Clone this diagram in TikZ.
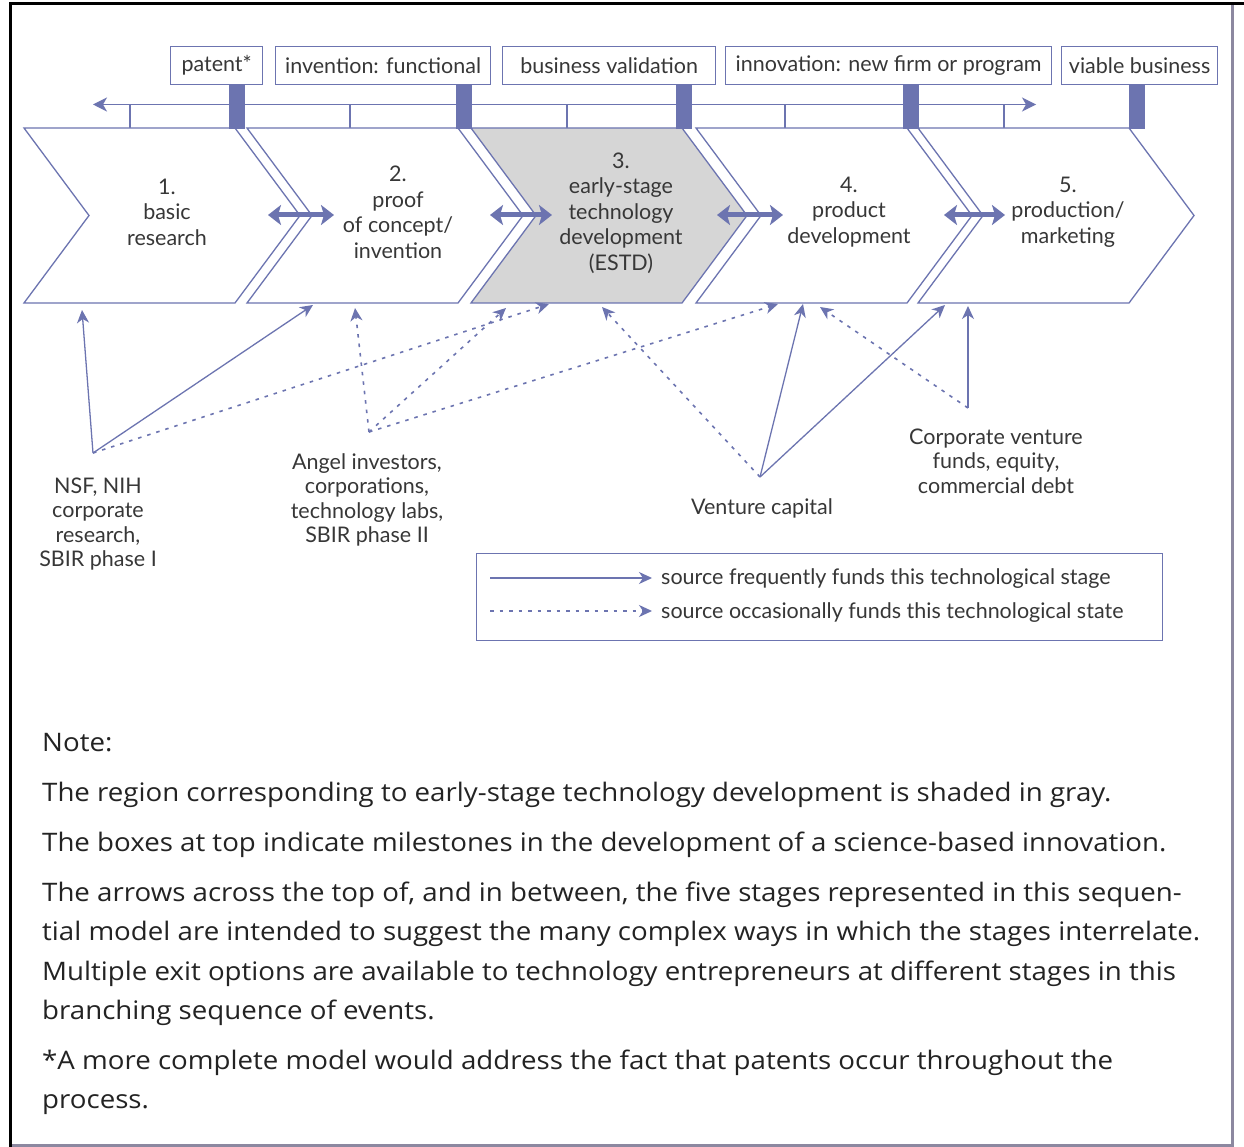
\documentclass[tikz,border=0pt]{standalone}
\usepackage{fontspec}
\setmainfont{Lato}
\newfontfamily\notefont[FakeStretch=1.085]{Open Sans}
\usetikzlibrary{arrows.meta}
\definecolor{ink}{RGB}{108,116,176}
\definecolor{shade}{RGB}{214,214,214}
\definecolor{txt}{RGB}{55,55,55}
\definecolor{notetxt}{RGB}{35,35,35}
\definecolor{edge}{RGB}{140,136,160}
\begin{document}
\begin{tikzpicture}[x=1pt,y=-1pt,line join=miter,
  lbl/.style={font=\fontsize{21.5}{25.5}\selectfont, text=txt, align=center, inner sep=0pt},
  src/.style={lbl, font=\fontsize{21.5}{24.3}\selectfont},
  mbox/.style={draw=ink, line width=1.3pt, font=\fontsize{21.5}{24}\selectfont, text=txt,
    minimum height=38pt, inner sep=0pt, anchor=north west},
  chev/.style={draw=ink, line width=1.3pt},
  tip/.style={-{Stealth[length=13pt,width=12pt,inset=4pt]}},
  fund/.style={draw=ink, line width=1.3pt, tip},
  occ/.style={draw=ink, line width=1.6pt, dash pattern=on 3.5pt off 6pt, tip},
  link/.style={draw=ink, line width=5pt,
    {Stealth[length=13pt,width=20pt,inset=3pt]}-{Stealth[length=13pt,width=20pt,inset=3pt]}},
  note/.style={font=\notefont\fontsize{25.5}{30}\selectfont, text=notetxt, anchor=mid west, inner sep=0pt}
]
\useasboundingbox (0,0) rectangle (1244,1147);
\fill[white] (0,0) rectangle (1244,1147);

% outer frame
\draw[black, line width=3pt] (10,1147) -- (10,4) -- (1244,4);
\draw[edge, line width=3pt] (1232,5.5) -- (1232,1145) -- (11.5,1145);

% milestone boxes
\node[mbox, minimum width=92pt]  (m1) at (170,46)  {patent*};
\node[mbox, minimum width=215pt] (m2) at (275,46)  {invention: functional};
\node[mbox, minimum width=213pt] (m3) at (502,46)  {business validation};
\node[mbox, minimum width=326pt] (m4) at (725,46)  {innovation: new firm or program};
\node[mbox, minimum width=156pt] (m5) at (1061,46) {viable business};

% time line with ticks
\coordinate (tl) at (93,104.5);
\coordinate (tr) at (1036,104.5);
\draw[ink, line width=1.3pt, {Stealth[length=14pt,width=14pt,inset=4pt]}-{Stealth[length=14pt,width=14pt,inset=4pt]}] (tl) -- (tr);
\foreach \x in {130,350,567,785,1004}
  \draw[ink, line width=1.3pt] (\x,104.5) -- (\x,128);

% stage chevrons
\foreach \x/\f in {24/white,247/white,471/shade,696/white,918/white}
  \draw[chev, fill=\f] (\x,128) -- ++(211,0) -- ++(65,87.5) -- ++(-65,87.5)
    -- ++(-211,0) -- ++(65,-87.5) -- cycle;

% milestone bars
\foreach \x in {237,464,684,911,1137}
  \fill[ink] (\x-8,84) rectangle (\x+8,129.5);

% stage labels
\node[lbl] (s1) at (167,212)   {1.\\basic\\research};
\node[lbl] (s2) at (398,212.5) {2.\\proof\\of concept/\\invention};
\node[lbl] (s3) at (621,213)   {3.\\early-stage\\technology\\development\\(ESTD)};
\node[lbl] (s4) at (849,212)   {4.\\product\\development};
\node[lbl] (s5) at (1068,212)  {5.\\production/\\marketing};

% links between neighbouring stages
\coordinate (l1a) at (268,215); \coordinate (l1b) at (334,215);
\coordinate (l2a) at (490,215); \coordinate (l2b) at (552,215);
\coordinate (l3a) at (717,215); \coordinate (l3b) at (783,215);
\coordinate (l4a) at (944,215); \coordinate (l4b) at (1005,215);
\draw[link] (l1a) -- (l1b);
\draw[link] (l2a) -- (l2b);
\draw[link] (l3a) -- (l3b);
\draw[link] (l4a) -- (l4b);

% funding sources
\node[src] (nsf)   at (98,524)  {NSF, NIH\\corporate\\research,\\SBIR phase I};
\node[src] (angel) at (367,500) {Angel investors,\\corporations,\\technology labs,\\SBIR phase II};
\node[src] (vc)    at (762,508) {Venture capital};
\node[src] (corp)  at (996,461) {Corporate venture\\funds, equity,\\commercial debt};

\coordinate (nsfp)   at (93,453);
\coordinate (angelp) at (369,432);
\coordinate (vcp)    at (760,477);
\coordinate (corpp)  at (968,408);

% entry points on the stages
\coordinate (t1a) at (82,310);
\coordinate (t2a) at (313,305);
\coordinate (t2b) at (355,308);
\coordinate (t3a) at (506,308);
\coordinate (t3b) at (549,304);
\coordinate (t3c) at (602,307);
\coordinate (t4a) at (778,304);
\coordinate (t4b) at (803,304);
\coordinate (t4c) at (820,307);
\coordinate (t5a) at (945,305);
\coordinate (t5b) at (968,306);

\draw[fund] (nsfp) -- (t1a);
\draw[fund] (nsfp) -- (t2a);
\draw[occ]  (nsfp) -- (t3b);
\draw[occ]  (angelp) -- (t2b);
\draw[occ]  (angelp) -- (t3a);
\draw[occ]  (angelp) -- (t4a);
\draw[occ]  (vcp) -- (t3c);
\draw[fund] (vcp) -- (t4b);
\draw[fund] (vcp) -- (t5a);
\draw[occ]  (corpp) -- (t4c);
\draw[fund] (corpp) -- (t5b);

% legend
\node[draw=ink, line width=1.3pt, minimum width=686pt, minimum height=87pt, anchor=north west, inner sep=0pt] (leg) at (476,553) {};
\coordinate (k1a) at (490,578); \coordinate (k1b) at (652,578);
\coordinate (k2a) at (490,611); \coordinate (k2b) at (652,611);
\draw[fund] (k1a) -- (k1b);
\draw[occ]  (k2a) -- (k2b);
\node[lbl, anchor=west] (k1) at (661,579) {source frequently funds this technological stage};
\node[lbl, anchor=west] (k2) at (661,613) {source occasionally funds this technological state};

% notes
\node[note] (n0) at (42,749)  {Note:};
\node[note] (n1) at (42,799)  {The region corresponding to early-stage technology development is shaded in gray.};
\node[note] (n2) at (42,849)  {The boxes at top indicate milestones in the development of a science-based innovation.};
\node[note] (n3) at (42,899)  {The arrows across the top of, and in between, the five stages represented in this sequen-};
\node[note] (n4) at (42,938)  {tial model are intended to suggest the many complex ways in which the stages interrelate.};
\node[note] (n5) at (42,978)  {Multiple exit options are available to technology entrepreneurs at different stages in this};
\node[note] (n6) at (42,1017) {branching sequence of events.};
\node[note] (n7) at (42,1067) {*A more complete model would address the fact that patents occur throughout the};
\node[note] (n8) at (42,1106) {process.};
\end{tikzpicture}
\end{document}
